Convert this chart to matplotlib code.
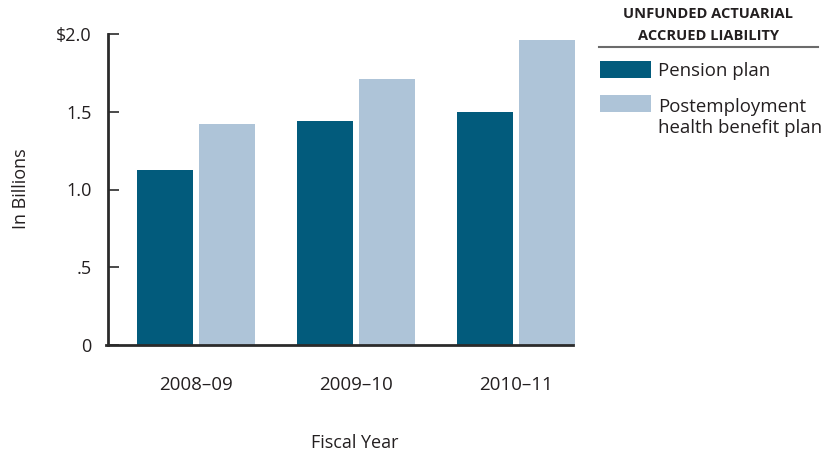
import matplotlib
matplotlib.use("Agg")
import matplotlib.pyplot as plt
from matplotlib.patches import Rectangle
from matplotlib.lines import Line2D
import numpy as np

plt.rcParams['font.family'] = ['Open Sans', 'DejaVu Sans']

# Data (in billions of dollars)
years = ["2008–09", "2009–10", "2010–11"]
series_names = ["Pension plan", "Postemployment\nhealth benefit plan"]
pension = [1.125, 1.44, 1.50]
postemployment = [1.42, 1.71, 1.96]
ytick_values = [0, 0.5, 1.0, 1.5, 2.0]
ytick_labels = ["0", ".5", "1.0", "1.5", "$2.0"]
legend_title = "UNFUNDED ACTUARIAL\nACCRUED LIABILITY"

dark = "#025B7C"
light = "#AEC4D8"
axis_col = "#2b2b2b"
text_col = "#231f20"

W, H = 824, 455
fig = plt.figure(figsize=(W / 100, H / 100), dpi=100)
ax = fig.add_axes([108 / W, 1 - 345 / H, (575 - 108) / W, (345 - 34) / H])

x = np.arange(len(years))
bw = 0.35
off = 0.194
ax.bar(x - off, pension, width=bw, color=dark, zorder=2)
ax.bar(x + off, postemployment, width=bw, color=light, zorder=2)

ax.set_xlim(-0.55, 2.37)
ax.set_ylim(0, 2.0)

for s in ["top", "right"]:
    ax.spines[s].set_visible(False)
for s in ["left", "bottom"]:
    ax.spines[s].set_color(axis_col)
    ax.spines[s].set_linewidth(2.0)
    ax.spines[s].set_zorder(3)
ax.spines["bottom"].set_bounds(-0.56, 2.356)

ax.set_yticks(ytick_values)
ax.set_yticklabels(ytick_labels)
ax.tick_params(axis="y", direction="in", length=8, width=1.2, color=axis_col,
               pad=12, labelsize=13, labelcolor=text_col)
ax.set_xticks(x)
ax.set_xticklabels(years)
ax.tick_params(axis="x", length=0, pad=22, labelsize=13.5, labelcolor=text_col)

fig.text(355 / W, 1 - 443 / H, "Fiscal Year", ha="center", va="center",
         fontsize=13, color=text_col)
fig.text(21 / W, 1 - 189 / H, "In Billions", ha="center", va="center",
         rotation=90, fontsize=13, color=text_col)

# Legend block
fig.text(708 / W, 1 - 25 / H, legend_title, ha="center", va="center",
         fontsize=10.5, fontweight="bold", color=text_col, linespacing=1.75)
fig.add_artist(Line2D([599 / W, 818 / W], [1 - 47 / H, 1 - 47 / H],
                      color="#6b6b6b", lw=1.5, transform=fig.transFigure))
for i, (name, col) in enumerate(zip(series_names, [dark, light])):
    y_top = [61, 95][i]
    last_baseline = [76, 133][i]
    fig.add_artist(Rectangle((600 / W, 1 - (y_top + 17) / H), 51 / W, 17 / H,
                             facecolor=col, edgecolor="none",
                             transform=fig.transFigure))
    fig.text(658 / W, 1 - last_baseline / H, name, ha="left", va="baseline",
             fontsize=13.4, color=text_col, linespacing=1.25)

fig.savefig("out.png", dpi=100)
